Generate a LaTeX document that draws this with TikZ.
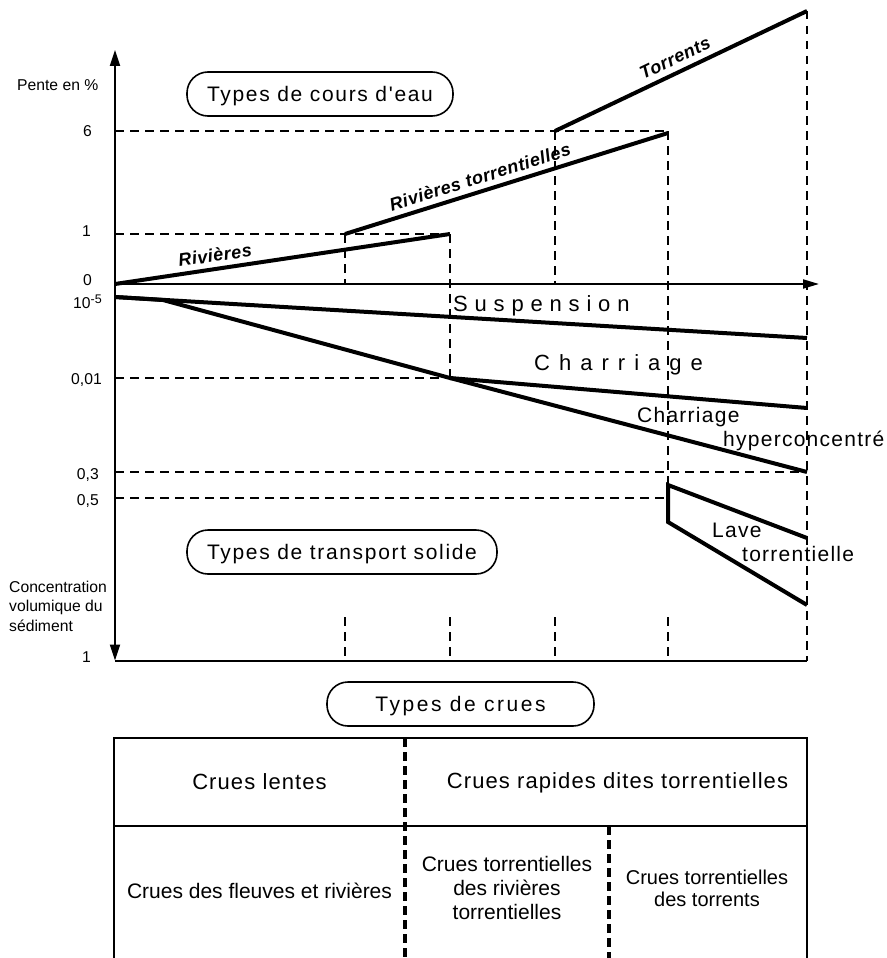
\documentclass[tikz,border=0pt]{standalone}
\usepackage{fontspec}
\setmainfont{Liberation Sans}[Ligatures=TeXOff]
\usetikzlibrary{arrows.meta}
\newcommand\fnt[2]{\fontsize{#1}{#2}\selectfont}
\begin{document}
\begin{tikzpicture}[x=1pt,y=-1pt,
  heavy/.style={line width=4pt, line join=miter},
  axisline/.style={line width=2pt},
  guide/.style={line width=1.8pt, dash pattern=on 8.5pt off 6.5pt},
  tabline/.style={line width=2pt},
  tabdash/.style={line width=3.5pt, dash pattern=on 9pt off 5pt},
  pill/.style={draw, line width=1.6pt, rounded corners=21pt, minimum height=44pt, inner sep=0pt, text height=15pt, text depth=0pt},
  lbl/.style={inner sep=0pt, font=\fnt{15.7}{19.5}},
  slope/.style={inner sep=0pt, font=\fnt{18}{22}\bfseries\itshape\addfontfeatures{LetterSpace=3}},
  tr/.style={inner sep=0pt, anchor=base west, font=\fnt{21}{25}\addfontfeatures{LetterSpace=6}},
  tabtxt/.style={inner sep=0pt, align=center}
]
\useasboundingbox (0,0) rectangle (886,958);

% ---------- key points ----------
\coordinate (ytop) at (115,50);
\coordinate (ybot) at (115,660.5);
\coordinate (O) at (115,284);
\coordinate (xend) at (819,284);
\coordinate (bend) at (807,660.5);

\coordinate (r0) at (115,284);
\coordinate (r1) at (450,234);
\coordinate (rt0) at (345,234);
\coordinate (rt1) at (668,133);
\coordinate (t0) at (555,131);
\coordinate (t1) at (807,11);

\coordinate (s0) at (115,297);
\coordinate (s1) at (807,338);
\coordinate (c0) at (163,300);
\coordinate (c1) at (450,378);
\coordinate (c2) at (807,408);
\coordinate (h2) at (807,472);
\coordinate (l0) at (668,485);
\coordinate (l1) at (807,538);
\coordinate (l2) at (668,522);
\coordinate (l3) at (807,605);

% ---------- guides ----------
\draw[guide] (115,131) -- (668,131);
\draw[guide] (115,234) -- (450,234);
\draw[guide] (345,234) -- (345,284);
\draw[guide] (450,234) -- (c1);
\draw[guide] (555,131) -- (555,284);
\draw[guide] (668,131) -- (l0);
\draw[guide] (t1) -- (bend);
\draw[guide] (115,378) -- (c1);
\draw[guide] (115,472) -- (h2);
\draw[guide] (115,498) -- (668,498);
\foreach \xx in {345,450,555,668} \draw[guide] (\xx,617) -- (\xx,660);

% ---------- axes ----------
\draw[axisline, arrows={Triangle[length=16pt,width=10pt]-Triangle[length=16pt,width=10pt]}] (ybot) -- (ytop);
\draw[axisline, -{Triangle[length=16pt,width=9pt]}] (O) -- (xend);
\draw[axisline] (ybot) -- (bend);

% ---------- heavy lines ----------
\draw[heavy] (r0) -- (r1);
\draw[heavy] (rt0) -- (rt1);
\draw[heavy] (t0) -- (t1);
\draw[heavy] (s0) -- (s1);
\draw[heavy] (s0) -- (c0) -- (c1) -- (h2);
\draw[heavy] (c1) -- (c2);
\draw[heavy] (l1) -- (l0) -- (l2) -- (l3);

% ---------- axis labels ----------
\node[lbl, anchor=base west] (pente) at (17,90) {Pente en \%};
\node[lbl, anchor=base east] (v6) at (92,136.5) {6};
\node[lbl, anchor=base east] (v1) at (91,236) {1};
\node[lbl, anchor=base east] (v0) at (92,285.5) {0};
\node[lbl, anchor=base east] (v5) at (102,308) {10\raisebox{4.5pt}{\fnt{12.5}{14}-5}};
\node[lbl, anchor=base east] (v001) at (102,384.3) {0,01};
\node[lbl, anchor=base east] (v03) at (99,479) {0,3};
\node[lbl, anchor=base east] (v05) at (99,505.7) {0,5};
\node[lbl, anchor=base east] (vb1) at (91,662.7) {1};
\node[lbl, align=left, anchor=north west] (conc) at (9,580.5) {Concentration\\volumique du\\sédiment};

% ---------- slope labels ----------
\node[slope, rotate=8.5] (lriv) at (215,255) {Rivières};
\node[slope, rotate=17.4] (lrivt) at (480,177) {Rivières torrentielles};
\node[slope, rotate=25.5] (ltor) at (675,58) {Torrents};

% ---------- transport labels ----------
\node[inner sep=0pt, anchor=base west, font=\fnt{22}{26}\addfontfeatures{LetterSpace=31}] (susp) at (453,311.7) {Suspension};
\node[inner sep=0pt, anchor=base west, font=\fnt{22}{26}\addfontfeatures{LetterSpace=41}] (charr) at (534,370) {Charriage};
\node[tr] (ch1) at (637,422.7) {Charriage};
\node[tr] (ch2) at (723,446) {hyperconcentré};
\node[tr] (lv1) at (712,537) {Lave};
\node[tr] (lv2) at (742,561.7) {torrentielle};

% ---------- pills ----------
\node[pill, minimum width=266pt, font=\fnt{21}{25}\addfontfeatures{LetterSpace=8}] (p1) at (320,94) {Types de cours d'eau};
\node[pill, minimum width=310pt, font=\fnt{21}{25}\addfontfeatures{LetterSpace=8}] (p2) at (342,552) {Types de transport solide};
\node[pill, minimum width=267pt, font=\fnt{21}{25}\addfontfeatures{LetterSpace=12}] (p3) at (460.5,704) {Types de crues};

% ---------- table ----------
\coordinate (tl) at (114,738);
\coordinate (trr) at (807,738);
\coordinate (bl) at (114,958);
\coordinate (br) at (807,958);
\coordinate (ml) at (114,826);
\coordinate (mr) at (807,826);
\coordinate (d1t) at (405,738);
\coordinate (d1b) at (405,958);
\coordinate (d2t) at (609,826);
\coordinate (d2b) at (609,958);
\draw[tabline] (bl) -- (tl) -- (trr) -- (br);
\draw[tabline] (ml) -- (mr);
\draw[tabdash] (d1t) -- (d1b);
\draw[tabdash] (d2t) -- (d2b);

\node[tabtxt, anchor=base, font=\fnt{22}{26}\addfontfeatures{LetterSpace=5}] (cl) at (259.5,789.3) {Crues lentes};
\node[tabtxt, anchor=base, font=\fnt{22}{26}\addfontfeatures{LetterSpace=5}] (cr) at (617.5,788) {Crues rapides dites torrentielles};
\node[tabtxt, anchor=base, font=\fnt{21}{24}] (cf) at (259.5,898) {Crues des fleuves et rivières};
\node[tabtxt, anchor=north, font=\fnt{21}{23.8}] (crt) at (507,856) {Crues torrentielles\\des rivières\\torrentielles};
\node[tabtxt, anchor=north, font=\fnt{20}{22.7}] (ct) at (707,869.5) {Crues torrentielles\\des torrents};
\end{tikzpicture}
\end{document}
